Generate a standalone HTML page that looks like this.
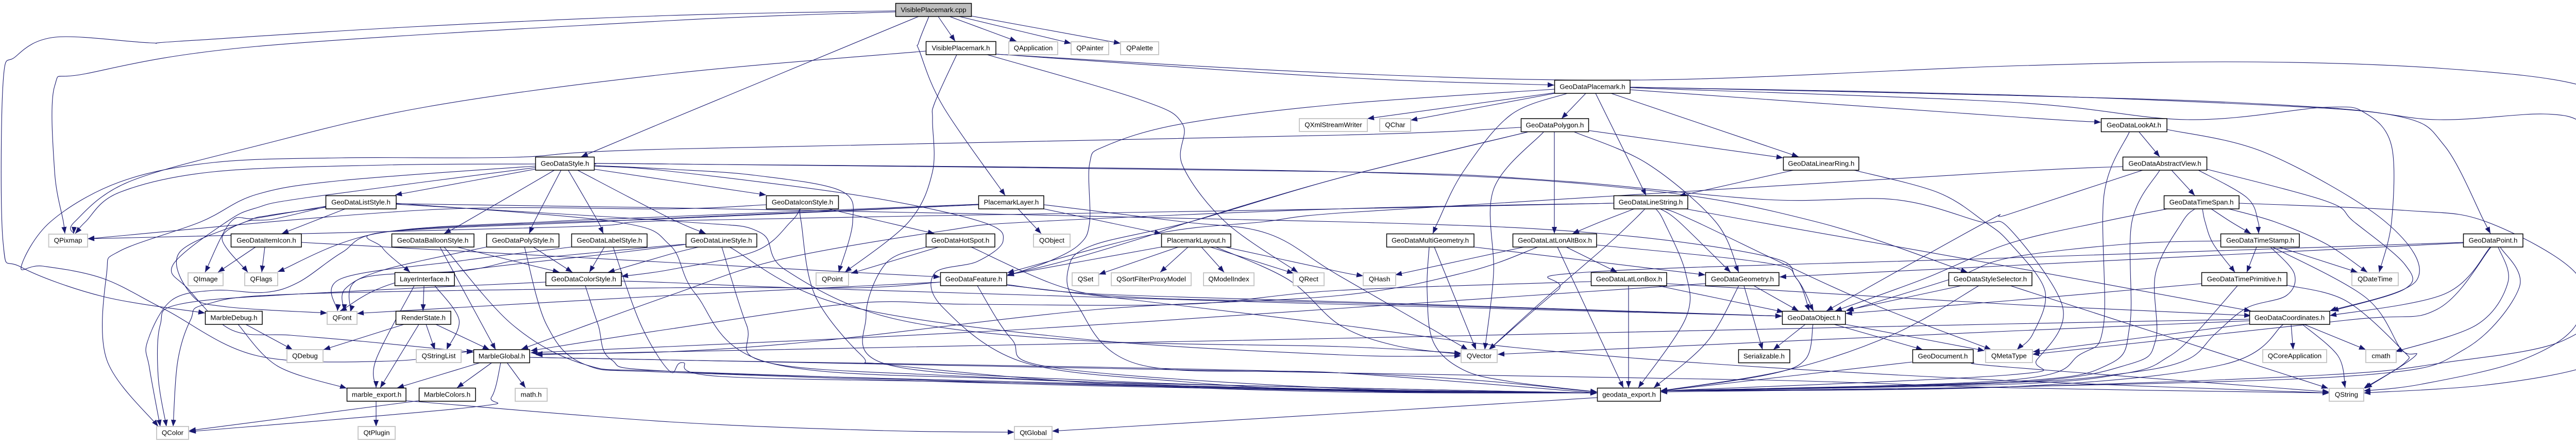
<!DOCTYPE html>
<html><head><meta charset="utf-8"><style>
html,body{margin:0;padding:0;background:#fff}
svg{display:block}
text{font-family:"Liberation Sans",sans-serif;font-size:13.33px;text-anchor:middle;fill:#000}
rect{fill:#fff;stroke:#000;stroke-width:1.5}
rect.x{stroke:#c8c8c8;stroke-width:2}
rect.r{fill:#bfbfbf}
#e path{fill:none;stroke:#191970;stroke-width:1.1;marker-end:url(#a)}
</style></head><body>
<svg xmlns="http://www.w3.org/2000/svg" width="5101" height="859" viewBox="0 0 5101 859">
<defs><marker id="a" markerUnits="userSpaceOnUse" markerWidth="14" markerHeight="12" refX="13" refY="5.5" orient="auto"><path d="M0,0.5L13,5.5L0,10.5Z" fill="#191970"/></marker></defs>
<g id="e"></g>
<g>
<rect class="r" x="1738.5" y="6.5" width="147" height="25.5"/><text x="1812" y="23.5">VisiblePlacemark.cpp</text>
<rect x="1797.5" y="80.5" width="135.5" height="25.5"/><text x="1865" y="97.5">VisiblePlacemark.h</text>
<rect class="x" x="1958" y="81" width="95" height="25"/><text x="2005.5" y="97.5">QApplication</text>
<rect class="x" x="2079" y="81" width="73" height="25"/><text x="2115.5" y="97.5">QPainter</text>
<rect class="x" x="2175" y="81" width="74" height="25"/><text x="2212" y="97.5">QPalette</text>
<rect x="3017.5" y="155.5" width="146.5" height="25.5"/><text x="3091" y="172.5">GeoDataPlacemark.h</text>
<rect class="x" x="2522" y="230" width="132" height="25"/><text x="2588" y="246.5">QXmlStreamWriter</text>
<rect class="x" x="2678" y="230" width="60" height="25"/><text x="2708" y="246.5">QChar</text>
<rect x="2952.5" y="230" width="131" height="25.5"/><text x="3018" y="247">GeoDataPolygon.h</text>
<rect x="4078.5" y="230" width="127.5" height="25.5"/><text x="4142" y="247">GeoDataLookAt.h</text>
<rect x="1039.5" y="304.5" width="114" height="25.5"/><text x="1096.5" y="321.5">GeoDataStyle.h</text>
<rect x="3461.5" y="304.5" width="146.5" height="25.5"/><text x="3535" y="321.5">GeoDataLinearRing.h</text>
<rect x="4120.5" y="304.5" width="163" height="25.5"/><text x="4202" y="321.5">GeoDataAbstractView.h</text>
<rect x="632.5" y="379.5" width="136.5" height="25.5"/><text x="700.5" y="396.5">GeoDataListStyle.h</text>
<rect x="1487.5" y="379.5" width="140" height="25.5"/><text x="1557.5" y="396.5">GeoDataIconStyle.h</text>
<rect x="1899.5" y="379.5" width="126.5" height="25.5"/><text x="1963" y="396.5">PlacemarkLayer.h</text>
<rect x="3132.5" y="379.5" width="143.5" height="25.5"/><text x="3204" y="396.5">GeoDataLineString.h</text>
<rect x="4200.5" y="379.5" width="145.5" height="25.5"/><text x="4273" y="396.5">GeoDataTimeSpan.h</text>
<rect class="x" x="94.5" y="454" width="75.5" height="25"/><text x="132" y="470.5">QPixmap</text>
<rect x="448.5" y="453.5" width="136.5" height="25.5"/><text x="517" y="470.5">GeoDataItemIcon.h</text>
<rect x="760.5" y="453.5" width="159.5" height="25.5"/><text x="840" y="470.5">GeoDataBalloonStyle.h</text>
<rect x="944.5" y="453.5" width="140.5" height="25.5"/><text x="1015" y="470.5">GeoDataPolyStyle.h</text>
<rect x="1109.5" y="453.5" width="146.5" height="25.5"/><text x="1183" y="470.5">GeoDataLabelStyle.h</text>
<rect x="1331.5" y="453.5" width="137.5" height="25.5"/><text x="1400" y="470.5">GeoDataLineStyle.h</text>
<rect x="1797.5" y="453.5" width="133.5" height="25.5"/><text x="1864" y="470.5">GeoDataHotSpot.h</text>
<rect class="x" x="2006" y="454" width="71" height="25"/><text x="2041.5" y="470.5">QObject</text>
<rect x="2254.5" y="453.5" width="134.5" height="25.5"/><text x="2322" y="470.5">PlacemarkLayout.h</text>
<rect x="2691.5" y="453.5" width="169.5" height="25.5"/><text x="2776" y="470.5">GeoDataMultiGeometry.h</text>
<rect x="2936.5" y="453.5" width="162.5" height="25.5"/><text x="3018" y="470.5">GeoDataLatLonAltBox.h</text>
<rect x="4310.5" y="453.5" width="152.5" height="25.5"/><text x="4387" y="470.5">GeoDataTimeStamp.h</text>
<rect x="4781.5" y="453.5" width="115.5" height="25.5"/><text x="4839" y="470.5">GeoDataPoint.h</text>
<rect class="x" x="365" y="529" width="68" height="25"/><text x="399" y="545.5">QImage</text>
<rect class="x" x="475" y="529" width="64" height="25"/><text x="507" y="545.5">QFlags</text>
<rect x="766.5" y="528.5" width="115.5" height="25.5"/><text x="824" y="545.5">LayerInterface.h</text>
<rect x="1059.5" y="528.5" width="146.5" height="25.5"/><text x="1133" y="545.5">GeoDataColorStyle.h</text>
<rect class="x" x="1584" y="529" width="63" height="25"/><text x="1615.5" y="545.5">QPoint</text>
<rect x="1825.5" y="528.5" width="128.5" height="25.5"/><text x="1890" y="545.5">GeoDataFeature.h</text>
<rect class="x" x="2081" y="529" width="51.5" height="25"/><text x="2107" y="545.5">QSet</text>
<rect class="x" x="2157" y="529" width="155" height="25"/><text x="2234.5" y="545.5">QSortFilterProxyModel</text>
<rect class="x" x="2336" y="529" width="98" height="25"/><text x="2385" y="545.5">QModelIndex</text>
<rect class="x" x="2510" y="529" width="60" height="25"/><text x="2540" y="545.5">QRect</text>
<rect class="x" x="2646" y="529" width="63" height="25"/><text x="2677.5" y="545.5">QHash</text>
<rect x="3088.5" y="528.5" width="146.5" height="25.5"/><text x="3162" y="545.5">GeoDataLatLonBox.h</text>
<rect x="3310.5" y="528.5" width="142.5" height="25.5"/><text x="3382" y="545.5">GeoDataGeometry.h</text>
<rect x="3782.5" y="528.5" width="161.5" height="25.5"/><text x="3863" y="545.5">GeoDataStyleSelector.h</text>
<rect x="4273.5" y="528.5" width="165.5" height="25.5"/><text x="4356" y="545.5">GeoDataTimePrimitive.h</text>
<rect class="x" x="4565" y="529" width="90" height="25"/><text x="4610" y="545.5">QDateTime</text>
<rect x="398.5" y="603.5" width="110.5" height="25.5"/><text x="454" y="620.5">MarbleDebug.h</text>
<rect class="x" x="635" y="604" width="58" height="25"/><text x="664" y="620.5">QFont</text>
<rect x="768.5" y="603.5" width="106.5" height="25.5"/><text x="822" y="620.5">RenderState.h</text>
<rect x="3459.5" y="603.5" width="122.5" height="25.5"/><text x="3521" y="620.5">GeoDataObject.h</text>
<rect x="4366.5" y="603.5" width="155.5" height="25.5"/><text x="4444" y="620.5">GeoDataCoordinates.h</text>
<rect class="x" x="557" y="678" width="70" height="25"/><text x="592" y="694.5">QDebug</text>
<rect class="x" x="808" y="678" width="87" height="25"/><text x="851.5" y="694.5">QStringList</text>
<rect x="919.5" y="678" width="108.5" height="25.5"/><text x="974" y="695">MarbleGlobal.h</text>
<rect class="x" x="2836" y="678" width="70" height="25"/><text x="2871" y="694.5">QVector</text>
<rect x="3374.5" y="678" width="99.5" height="25.5"/><text x="3424" y="695">Serializable.h</text>
<rect x="3712.5" y="678" width="117.5" height="25.5"/><text x="3771" y="695">GeoDocument.h</text>
<rect class="x" x="3854" y="678" width="91" height="25"/><text x="3899.5" y="694.5">QMetaType</text>
<rect class="x" x="4392" y="678" width="124" height="25"/><text x="4454" y="694.5">QCoreApplication</text>
<rect class="x" x="4592" y="678" width="59" height="25"/><text x="4621.5" y="694.5">cmath</text>
<rect x="673.5" y="752.5" width="114.5" height="25.5"/><text x="731" y="769.5">marble_export.h</text>
<rect x="813.5" y="752.5" width="109.5" height="25.5"/><text x="868" y="769.5">MarbleColors.h</text>
<rect class="x" x="1000" y="753" width="62" height="25"/><text x="1031" y="769.5">math.h</text>
<rect x="3100.5" y="752.5" width="122.5" height="25.5"/><text x="3162" y="769.5">geodata_export.h</text>
<rect class="x" x="4521" y="753" width="67" height="25"/><text x="4554.5" y="769.5">QString</text>
<rect class="x" x="304" y="827" width="62" height="25"/><text x="335" y="843.5">QColor</text>
<rect class="x" x="695" y="827" width="72" height="25"/><text x="731" y="843.5">QtPlugin</text>
<rect class="x" x="1969" y="827" width="73" height="25"/><text x="2005.5" y="843.5">QtGlobal</text>
</g>
</svg>
<script>
var L=[
"1738,21 1300,30 800,52 348,80 290,83 108,72 30,110 6,160 6,470 41,518 200,575 398,607",
"2952,247 2600,262 1300,289 995,305 663,306 415,315 232,353 98,430 41,518 83,516 200,540 320,600 500,690 760,700 919,680",
"1039,318 746,320 415,333 232,373 166,430 146,453",
"1738,23 1300,40 498,90 166,143 106,167 106,333 123,430 126,453",
"1797,99 1300,143 829,207 498,283 249,353 145,430 143,453",
"1783,32 1300,232 1128,304",
"1803,32 1783,83 1785,100 1831,207 1951,379",
"1821,32 1854,80","1843,32 1973,80","1862,32 2079,84","1885,31 2175,84",
"1933,105 2600,150 3017,165",
"1933,105 2600,142 3197,155 3900,128 4361,120 4745,133 5014,167 5099,240 5099,663 5014,713 4822,747 4588,762",
"1857,106 1814,200 1810,233 1810,333 1764,430 1640,528",
"1916,106 2212,193 2295,240 2295,320 2378,430 2519,528",
"3017,173 2600,202 2295,240 2146,283 2115,317 2115,430 2096,473 2038,506 1955,535",
"3017,180 2654,230","3023,180 2738,233","3078,181 3031,230","3097,181 3195,379","3127,181 3491,304",
"3042,181 2932,223 2840,333 2791,430 2781,453",
"3164,174 3900,226 4078,237",
"3164,170 3900,198 4246,232 4515,208 4592,220 4642,283 4642,430 4618,528",
"3164,169 3900,185 4361,200 4653,225 4745,283 4822,430 4834,453",
"3164,169 3900,184 4515,210 4730,232 4937,221 5014,240 5049,300 5049,563 4976,660 4745,703 4515,727 3900,750 3223,760",
"2965,256 2600,345 2311,430 2212,463 2063,507 1955,533",
"2965,256 2600,345 2311,430 2120,476 2074,520 2090,590 2212,707 2600,723 3100,762",
"4121,323 3900,333 3131,380 2600,413 2453,430 2245,453 1955,529",
"3017,256 3017,453",
"2996,256 2899,367 2899,530 2882,678",
"3083,253 3461,306",
"3056,256 3197,317 3330,430 3375,528",
"3481,330 3259,380",
"3599,330 3761,373 3852,430 3900,470 3969,563 3946,647 3915,678",
"3132,394 2600,405 2129,413 1300,428 1100,440 170,463",
"3132,394 2600,405 2005,430 1836,447 1515,503 1300,573 1012,677",
"3172,405 3107,430 3052,453",
"3193,405 3168,430 3114,480 2990,587 2890,678",
"3214,405 3230,430 3272,530 3272,617 3180,752",
"3223,405 3259,430 3359,528",
"3231,405 3292,430 3595,573 3865,678",
"3272,405 3409,430 3900,517 4369,603",
"769,395 1300,403 2600,430 3098,452 3429,497 3487,540 3520,603",
"496,479 423,528","514,479 508,528",
"670,405 547,453",
"632,400 498,423 448,430 398,528",
"632,401 530,425 477,430 431,463 481,528",
"632,402 520,418 477,430 348,490 373,573 440,595 635,607",
"1039,322 663,350 498,377 390,430 232,487 207,530 207,697 307,827",
"1039,325 597,383 498,403 440,430 336,513 365,560 450,640 564,650 705,662 919,683",
"1153,318 1300,318 2600,333 3015,350 3429,387 3678,387 3844,430 3900,443 4004,597 3954,697 3900,727 3223,758",
"1153,318 1300,318 2600,333 3180,367 3525,430 3819,528",
"1039,328 767,378",
"1076,330 904,430 862,453","1089,330 1037,430 1027,453","1103,330 1161,430 1171,453",
"1121,330 1300,423 1370,453",
"1153,328 1487,378",
"1153,321 1300,328 1466,340 1632,370 1655,430 1628,528",
"1153,322 1300,332 1673,380 1905,430 1947,467 1897,507 1814,530 1831,597 1988,703 2295,740 2600,757 3100,762",
"1487,397 1300,405 829,407 170,463",
"1553,405 1535,430 1466,487 1300,523 1206,536",
"1553,405 1555,430 1582,573 1673,690 1723,707 2129,743 2600,760 3100,762",
"1607,405 1715,430 1814,453",
"1822,479 1652,530",
"1797,479 1720,510 1681,613 1723,707 2129,738 2600,752 3100,762",
"1885,479 2063,557 2212,577 2600,587 3459,613",
"1899,396 1300,420 1061,430 730,453 539,527",
"1899,397 1300,423 1160,430 746,450 742,480 796,528",
"1899,397 1300,424 1060,432 746,450 663,490 580,547 514,567 415,563 332,583 286,663 290,713 311,827",
"1976,405 2021,453",
"2026,405 2254,453",
"2026,397 2295,430 2461,453 2600,535 2849,678",
"2254,479 1955,533","2287,479 2133,532","2306,479 2252,528","2332,479 2376,528","2349,479 2511,530",
"2378,479 2600,527 2646,535",
"2360,479 2502,543 2600,630 2708,670 2836,687",
"1825,547 1665,555 1300,573 705,607 693,608",
"1825,547 1665,558 1300,558 580,570 400,590 370,620 345,700 336,827",
"1897,554 1963,657 2046,713 2600,753 3100,762",
"1955,552 2129,570 2600,585 3459,613",
"1955,553 2212,583 2600,630 2932,673 3346,707 3900,738 4521,762",
"585,470 1300,509 1825,537",
"1059,547 580,570 348,590 311,630 307,730 323,827",
"1136,554 1161,630 1186,697 1300,720 1963,740 2600,755 3100,762",
"1206,545 1300,548 1600,560 2600,590 3459,613",
"887,479 1086,528",
"854,479 962,678",
"862,479 995,630 1136,707 1300,720 1963,742 2600,757 3100,762",
"1035,479 1111,528",
"1018,479 1061,630 1136,707 1300,722 1963,744 2600,758 3100,762",
"1173,479 1144,528",
"1190,479 1244,630 1300,720 1325,703 1400,730 1963,742 2600,756 3100,762",
"1356,479 1300,493 1180,528",
"1331,474 1200,490 800,540 660,603",
"1109,479 900,505 663,540 655,603",
"944,479 746,523 670,560 668,603",
"1331,474 1300,476 1100,495 1000,505 900,525 700,540 680,605",
"1401,479 1449,630 1491,703 1880,730 2600,758 3100,762",
"1416,479 1632,590 2096,657 2600,688 2836,690",
"769,394 1194,430 1300,475 1350,570 1491,703 1963,735 2600,752 3100,762",
"769,396 1325,430 1474,450 1524,523 1731,617 2096,660 2600,672 2836,685",
"823,554 821,603",
"804,554 730,697 730,752",
"844,554 891,620 867,678",
"784,629 628,678",
"813,629 738,752",
"827,629 844,678",
"846,629 950,678",
"477,629 568,678",
"462,629 539,710 673,753",
"933,703 771,752",
"955,703 887,752",
"984,703 1020,752",
"972,703 954,770 912,790 367,837",
"813,777 367,835",
"730,778 730,827",
"788,777 1300,818 1715,835 1969,838",
"3100,771 2600,802 2042,836",
"2774,479 2770,563 2782,663 2840,717 2932,740 3100,760",
"2784,479 2865,678",
"2861,479 3310,533",
"2958,479 2708,533",
"2985,479 2849,527 2600,573 2130,600 1600,660 1300,682 1040,686",
"3023,479 3151,752",
"3040,479 3139,528",
"3099,475 3429,510 3487,540 3512,603",
"3161,554 3161,752",
"3218,554 3462,605",
"3235,550 3900,590 4369,612",
"3088,546 2600,563 2300,590 1883,590 1660,588 1300,638 1030,680",
"3375,554 3313,663 3210,752",
"3385,554 3421,678",
"3404,554 3491,603",
"3310,550 2600,598 1963,640 1300,672 1030,684",
"4781,471 3900,515 3454,537",
"4781,470 3900,500 3077,528 3023,563 2890,678",
"3504,629 3442,678",
"3519,629 3504,697 3429,727 3223,758",
"3560,629 3732,678",
"3582,629 3852,680",
"3711,702 3223,758",
"3830,703 3900,712 4521,760",
"3807,554 3583,602",
"3841,554 3678,647 3471,717 3223,758",
"3902,554 4519,753",
"4159,330 3900,415 3856,430 3545,603",
"4207,405 4081,430 3900,472 3736,540 3562,603",
"4192,330 4138,430 4134,630 4092,707 3900,740 3223,758",
"4215,330 4260,379",
"4267,330 4361,383 4383,430 4384,453",
"4283,328 4515,390 4569,430 4668,513 4668,560 4526,603",
"4133,256 4084,377 4083,630 4038,687 3900,737 3223,758",
"4152,256 4192,304",
"4206,251 4399,297 4630,430 4691,543 4522,603",
"4346,394 4668,408 4826,430 5000,530 5000,630 4890,700 4700,745 4588,758",
"4260,405 4236,430 4184,530 4184,660 4130,707 3900,742 3223,758",
"4275,405 4280,430 4296,473 4338,528",
"4292,405 4330,430 4369,453",
"4326,405 4415,430 4515,473 4595,528",
"4310,467 4131,473 3900,500 3790,540 3585,603",
"4380,479 4361,528",
"4407,479 4453,530 4438,573 4361,597 4300,647 4246,697 4130,723 3900,742 3223,758",
"4411,479 4592,577 4661,678 4688,690 4591,753",
"4423,479 4576,528",
"4439,553 4553,583 4661,677 4668,703 4588,753",
"4273,550 3900,583 3582,608",
"4343,554 4261,647 4207,693 4130,723 3900,745 3223,758",
"4366,619 3900,628 2600,656 1300,682 1040,688",
"4366,622 3900,642 2907,687",
"4366,628 3946,682",
"4432,629 4315,707 3900,750 3223,758",
"4447,629 4451,678",
"4469,629 4538,690 4552,752",
"4472,629 4592,678",
"4834,479 4745,570 4522,612",
"4835,479 4730,600 4553,621 3945,687",
"4849,479 4868,547 4807,630 4649,682",
"4853,479 4890,557 4784,677 4590,727 3900,750 3223,758",
"1028,693 1300,698 2600,723 3100,760",
"1028,693 1300,698 2600,723 3429,737 3900,752 4521,762"
];
var g=document.getElementById("e"),NS="http://www.w3.org/2000/svg";
L.forEach(function(s){
 var p=s.split(" ").map(function(q){return q.split(",").map(Number)}),d="M"+p[0];
 for(var i=0;i<p.length-1;i++){
  var a=p[i-1]||p[i],b=p[i],c=p[i+1],e=p[i+2]||c;
  d+="C"+(b[0]+(c[0]-a[0])/6).toFixed(1)+","+(b[1]+(c[1]-a[1])/6).toFixed(1)+" "+(c[0]-(e[0]-b[0])/6).toFixed(1)+","+(c[1]-(e[1]-b[1])/6).toFixed(1)+" "+c[0]+","+c[1];
 }
 var t=document.createElementNS(NS,"path");t.setAttribute("d",d);g.appendChild(t);
});
</script>
</body></html>
